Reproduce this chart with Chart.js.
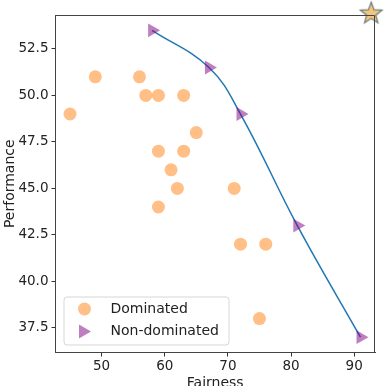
<!DOCTYPE html>
<html>
<head>
<meta charset="utf-8">
<script src="https://cdn.jsdelivr.net/npm/chart.js@4.4.1/dist/chart.umd.min.js"></script>
<style>
  html, body { margin: 0; padding: 0; background: #fff; }
  #wrap { width: 384px; height: 386px; }
</style>
</head>
<body>
<div id="wrap"><canvas id="pareto"></canvas></div>
<script>
// values
const dominatedFairness = [45, 49, 56, 57, 59, 63, 65, 59, 63, 61, 62, 59, 71, 72, 76, 75];
const dominatedPerf     = [49, 51, 51, 50, 50, 50, 48, 47, 47, 46, 45, 44, 45, 42, 42, 38];
const frontFairness = [58, 67, 72, 81, 91];
const frontPerf     = [53.5, 51.5, 49, 43, 37];
const idealPoint = [92.7, 54.4];
const xTicks = [50, 60, 70, 80, 90];
const yTicks = [37.5, 40, 42.5, 45, 47.5, 50, 52.5];
const legendLabels = ['Dominated', 'Non-dominated'];

const orange = 'rgba(255,127,14,0.5)';
const purple = 'rgba(128,0,128,0.5)';
const font = 'DejaVu Sans';

// filled star marker
const star = document.createElement('canvas');
star.width = 28; star.height = 28;
(function () {
  const c = star.getContext('2d');
  c.beginPath();
  for (let i = 0; i < 10; i++) {
    const r = i % 2 === 0 ? 11.5 : 4.8;
    const a = -Math.PI / 2 + i * Math.PI / 5;
    const px = 14 + r * Math.cos(a), py = 14 + r * Math.sin(a);
    i === 0 ? c.moveTo(px, py) : c.lineTo(px, py);
  }
  c.closePath();
  c.fillStyle = '#f2c680';
  c.fill();
  c.lineWidth = 1.1;
  c.strokeStyle = '#627377';
  c.stroke();
})();

const toPts = (xs, ys) => xs.map((x, i) => ({ x: x, y: ys[i] }));

const frameAndLegend = {
  id: 'frameAndLegend',
  afterDatasetsDraw(chart) {
    const { ctx, chartArea: a } = chart;
    ctx.save();
    ctx.strokeStyle = '#444';
    ctx.lineWidth = 1;
    ctx.beginPath();
    ctx.moveTo(a.left, a.top + 0.5);
    ctx.lineTo(a.right - 0.5, a.top + 0.5);
    ctx.lineTo(a.right - 0.5, a.bottom);
    ctx.stroke();

    // legend box
    const bx = a.left + 8, by = a.bottom - 56, bw = 165, bh = 48;
    ctx.beginPath();
    ctx.roundRect(bx + 0.5, by + 0.5, bw, bh, 3);
    ctx.fillStyle = 'rgba(255,255,255,0.8)';
    ctx.fill();
    ctx.strokeStyle = '#d6d6d6';
    ctx.stroke();

    const mx = bx + 21;
    const rows = [by + 12.5, by + 35];
    ctx.fillStyle = orange;
    ctx.beginPath();
    ctx.arc(mx, rows[0], 6.5, 0, Math.PI * 2);
    ctx.fill();
    ctx.fillStyle = purple;
    ctx.beginPath();
    ctx.moveTo(mx + 6.5, rows[1]);
    ctx.lineTo(mx - 5.5, rows[1] - 7);
    ctx.lineTo(mx - 5.5, rows[1] + 7);
    ctx.closePath();
    ctx.fill();

    ctx.fillStyle = '#222';
    ctx.font = '14px "' + font + '"';
    ctx.textBaseline = 'middle';
    legendLabels.forEach((t, i) => ctx.fillText(t, bx + 47, rows[i]));
    ctx.restore();
  }
};

new Chart(document.getElementById('pareto'), {
  type: 'scatter',
  data: {
    datasets: [
      {
        label: 'ideal',
        data: [{ x: idealPoint[0], y: idealPoint[1] }],
        pointStyle: star,
        clip: false
      },
      {
        label: legendLabels[1],
        data: toPts(frontFairness, frontPerf),
        pointStyle: 'triangle',
        rotation: 90,
        pointRadius: 8,
        backgroundColor: purple,
        borderWidth: 0
      },
      {
        label: legendLabels[0],
        data: toPts(dominatedFairness, dominatedPerf),
        pointRadius: 6.5,
        backgroundColor: orange,
        borderWidth: 0
      },
      {
        label: 'front',
        data: toPts(frontFairness, frontPerf),
        showLine: true,
        tension: 0.4,
        borderColor: '#1f77b4',
        borderWidth: 1.5,
        pointRadius: 0
      }
    ]
  },
  options: {
    responsive: true,
    maintainAspectRatio: false,
    animation: false,
    layout: { padding: { top: 15, right: 9, left: 0, bottom: 0 } },
    plugins: {
      legend: { display: false },
      tooltip: { enabled: false }
    },
    scales: {
      x: {
        type: 'linear',
        min: 42.7,
        max: 93.3,
        afterFit: s => { s.height = 33.5; },
        afterBuildTicks: s => { s.ticks = xTicks.map(v => ({ value: v })); },
        grid: { drawOnChartArea: false, tickLength: 4, tickColor: '#333' },
        border: { color: '#444', width: 1 },
        ticks: { color: '#222', padding: 2, font: { family: font, size: 13.5 } },
        title: {
          display: true, text: 'Fairness', color: '#222',
          font: { family: font, size: 14 }, padding: { top: 0, bottom: -6 }
        }
      },
      y: {
        type: 'linear',
        min: 36.175,
        max: 54.325,
        afterFit: s => { s.width = 55.5; },
        afterBuildTicks: s => { s.ticks = yTicks.map(v => ({ value: v })); },
        grid: { drawOnChartArea: false, tickLength: 4, tickColor: '#333' },
        border: { color: '#444', width: 1 },
        ticks: {
          color: '#222', padding: 3, font: { family: font, size: 13.5 },
          callback: v => v.toFixed(1)
        },
        title: {
          display: true, text: 'Performance', color: '#222',
          font: { family: font, size: 14 }, padding: { top: 2, bottom: 0 }
        }
      }
    }
  },
  plugins: [frameAndLegend]
});
</script>
</body>
</html>
